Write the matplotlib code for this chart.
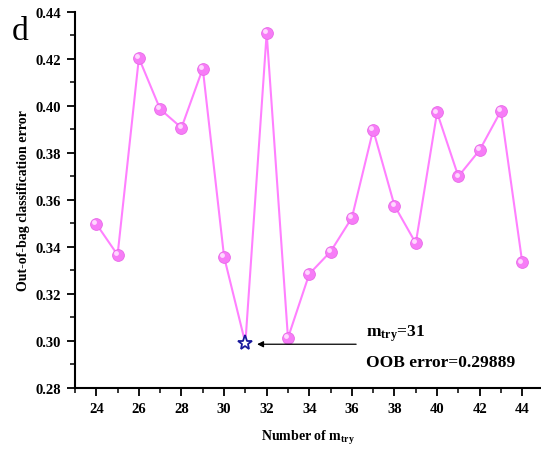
import matplotlib
matplotlib.use('Agg')
import matplotlib.pyplot as plt
import matplotlib.transforms as mtransforms
from matplotlib.ticker import MultipleLocator, FormatStrFormatter

# data
mtry = [24, 25, 26, 27, 28, 29, 30, 31, 32, 33, 34, 35, 36, 37, 38, 39, 40, 41, 42, 43, 44]
oob_err = [0.3497, 0.3365, 0.4203, 0.3985, 0.3906, 0.4158, 0.3357, 0.29889, 0.4309, 0.3012,
           0.3284, 0.3379, 0.3523, 0.3897, 0.3575, 0.3415, 0.3971, 0.3699, 0.3811, 0.3978, 0.3333]
best_mtry = 31
best_err = 0.29889

plt.rcParams['font.family'] = ['Liberation Serif', 'DejaVu Serif']
plt.rcParams['mathtext.fontset'] = 'custom'
plt.rcParams['mathtext.rm'] = 'Liberation Serif:bold'
plt.rcParams['mathtext.it'] = 'Liberation Serif:bold'
plt.rcParams['mathtext.bf'] = 'Liberation Serif:bold'

fig = plt.figure(figsize=(5.41, 4.52), dpi=100)
ax = fig.add_axes([0.1386, 0.140, 0.8614, 0.832])

pink = '#ff80ff'
ax.plot(mtry, oob_err, color=pink, linewidth=1.5, zorder=2)

# sphere-like markers (the best point is drawn as a star)
xs = [x for x in mtry if x != best_mtry]
ys = [y for x, y in zip(mtry, oob_err) if x != best_mtry]
ax.plot(xs, ys, linestyle='none', marker='o', markersize=8.5,
        markerfacecolor='#f77cf7', markeredgecolor='#e86ae8', markeredgewidth=0.6, zorder=3)
hl = mtransforms.offset_copy(ax.transData, fig=fig, x=-1.3, y=1.3, units='points')
ax.plot(xs, ys, linestyle='none', marker='o', markersize=3.5,
        markerfacecolor='#ffd8ff', markeredgecolor='none', transform=hl, zorder=4)

ax.plot([best_mtry], [best_err], linestyle='none', marker='*', markersize=11,
        markerfacecolor='white', markeredgecolor='#1a1a9c', markeredgewidth=1.3, zorder=5)

ax.annotate('', xy=(31.55, 0.2985), xytext=(36.2, 0.2985),
            arrowprops=dict(arrowstyle='-|>', color='black', lw=0.9,
                            mutation_scale=9, shrinkA=0, shrinkB=0))
ax.text(36.65, 0.3020, r'm$_{\mathregular{try}}$=31', fontsize=12.5, fontweight='bold',
        va='baseline', ha='left')
ax.text(36.65, 0.2893, 'OOB error=0.29889', fontsize=12.5, fontweight='bold',
        va='baseline', ha='left')

ax.set_xlim(23, 44.88)
ax.set_ylim(0.28, 0.44)
ax.xaxis.set_major_locator(MultipleLocator(2))
ax.xaxis.set_minor_locator(MultipleLocator(1))
ax.yaxis.set_major_locator(MultipleLocator(0.02))
ax.yaxis.set_minor_locator(MultipleLocator(0.01))
ax.yaxis.set_major_formatter(FormatStrFormatter('%.2f'))

for s in ['top', 'right']:
    ax.spines[s].set_visible(False)
for s in ['left', 'bottom']:
    ax.spines[s].set_linewidth(1.5)

ax.tick_params(which='major', direction='out', length=6, width=1.3, labelsize=10.5, pad=4)
ax.tick_params(which='minor', direction='out', length=3.5, width=1.1)
for lab in ax.get_xticklabels() + ax.get_yticklabels():
    lab.set_fontweight('bold')

ax.set_xlabel(r'Number of m$_{\mathregular{try}}$', fontsize=10, fontweight='bold', labelpad=10)
ax.set_ylabel('Out-of-bag classification error', fontsize=10, fontweight='bold', labelpad=4)

fig.text(0.022, 0.9115, 'd', fontsize=24, ha='left', va='baseline')

fig.savefig('out.png', dpi=100)
